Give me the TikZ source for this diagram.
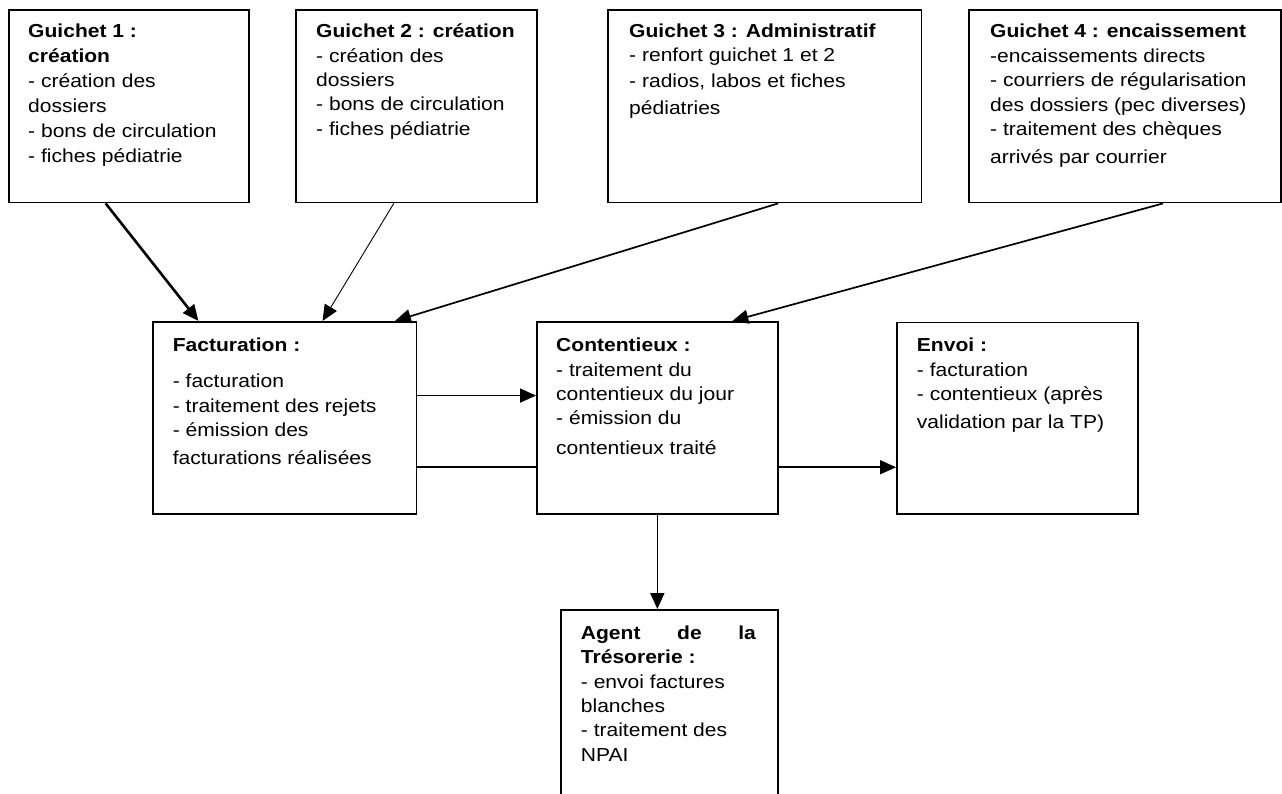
\documentclass[tikz,border=0pt]{standalone}
\usepackage{fontspec}
\setmainfont{Liberation Sans}[FakeStretch=1.12]
\usetikzlibrary{arrows.meta,calc}

\tikzset{
  box/.style={draw, line width=1.7pt, inner sep=0pt, anchor=north west},
  txt/.style={anchor=base west, inner sep=0pt, align=left},
  flow/.style={line width=1.7pt, -{Triangle[length=16pt,width=14pt]}},
  plain/.style={line width=1.7pt},
}
\newcommand{\lines}[2][24.4pt]{\parbox[t]{300pt}{\fontsize{18.8pt}{#1}\selectfont\raggedright #2}}

\begin{document}
\begin{tikzpicture}[x=1pt,y=-1pt]
\clip (0,0) rectangle (1282,794);
\fill[white] (0,0) rectangle (1282,794);

% counters
\node[box, minimum width=240pt,   minimum height=192.7pt] (g1) at (8,9) {};
\node[box, minimum width=241pt,   minimum height=192.7pt] (g2) at (295,9) {};
\node[box, minimum width=313.5pt, minimum height=192.7pt] (g3) at (607,9) {};
\node[box, minimum width=312pt,   minimum height=192.7pt] (g4) at (968,9) {};

% processing
\node[box, minimum width=263.5pt, minimum height=192pt] (fact) at (152,321) {};
\node[box, minimum width=241pt,   minimum height=192pt] (cont) at (536,321) {};
\node[box, minimum width=241pt,   minimum height=191.5pt] (envoi) at (896,321.5) {};
\node[box, minimum width=217pt,   minimum height=220pt] (agent) at (560,609) {};

% texts
\node[txt] (g1t) at ([xshift=20pt,yshift=-28.5pt]g1.north west)
  {\lines[25.1pt]{\textbf{Guichet 1 :}\\ \textbf{création}\\ - création des\\ dossiers\\ - bons de circulation\\ - fiches pédiatrie}};
\node[txt] (g2t) at ([xshift=21pt,yshift=-28.7pt]g2.north west)
  {\lines{\textbf{Guichet 2 : création}\\ - création des\\ dossiers\\ - bons de circulation\\ - fiches pédiatrie}};
\node[txt] (g3t) at ([xshift=22pt,yshift=-28.3pt]g3.north west)
  {\lines{\textbf{Guichet 3 : Administratif}\\ - renfort guichet 1 et 2\\[1.2pt] - radios, labos et fiches\\[3pt] pédiatries}};
\node[txt] (g4t) at ([xshift=22pt,yshift=-29pt]g4.north west)
  {\lines{\textbf{Guichet 4 : encaissement}\\ -encaissements directs\\ - courriers de régularisation\\ des dossiers (pec diverses)\\ - traitement des chèques\\[3.5pt] arrivés par courrier}};
\node[txt] (factt) at ([xshift=20.6pt,yshift=-30.7pt]fact.north west)
  {\lines{\textbf{Facturation :}\\[11.6pt] - facturation\\ - traitement des rejets\\ - émission des\\[4pt] facturations réalisées}};
\node[txt] (contt) at ([xshift=20pt,yshift=-30.7pt]cont.north west)
  {\lines{\textbf{Contentieux :}\\ - traitement du\\ contentieux du jour\\ - émission du\\[5pt] contentieux traité}};
\node[txt] (envoit) at ([xshift=20.7pt,yshift=-30.2pt]envoi.north west)
  {\lines{\textbf{Envoi :}\\ - facturation\\ - contentieux (après\\[3.3pt] validation par la TP)}};
\node[txt] (agentt) at ([xshift=20.7pt,yshift=-30.3pt]agent.north west)
  {\lines{\textbf{\hbox to 175pt{Agent\hfill de\hfill la}}\\ \textbf{Trésorerie :}\\ - envoi factures\\ blanches\\ - traitement des\\ NPAI}};

% connectors from the counters
\draw[flow, line width=2.6pt] ($(g1.south west)!0.404!(g1.south east)$) -- ($(fact.north west)!0.175!(fact.north east)$);
\draw[flow, line width=0.9pt] ($(g2.south west)!0.407!(g2.south east)$) -- ($(fact.north west)!0.643!(fact.north east)$);
\draw[flow] ($(g3.south west)!0.543!(g3.south east)$) -- ($(fact.north west)!0.916!(fact.north east)$);
\draw[flow] ($(g4.south west)!0.622!(g4.south east)$) -- ($(cont.north west)!0.809!(cont.north east)$);

% links between the processing boxes
\coordinate (fa) at ($(fact.north east)!0.385!(fact.south east)$);
\coordinate (fb) at ($(fact.north east)!0.755!(fact.south east)$);
\coordinate (ca) at ($(cont.north east)!0.755!(cont.south east)$);
\draw[flow] (fa) -- (fa -| cont.west);
\draw[plain] (fb) -- (fb -| cont.west);
\draw[flow] (ca) -- (ca -| envoi.west);
\draw[flow] (cont.south) -- (cont.south |- agent.north);
\end{tikzpicture}
\end{document}
